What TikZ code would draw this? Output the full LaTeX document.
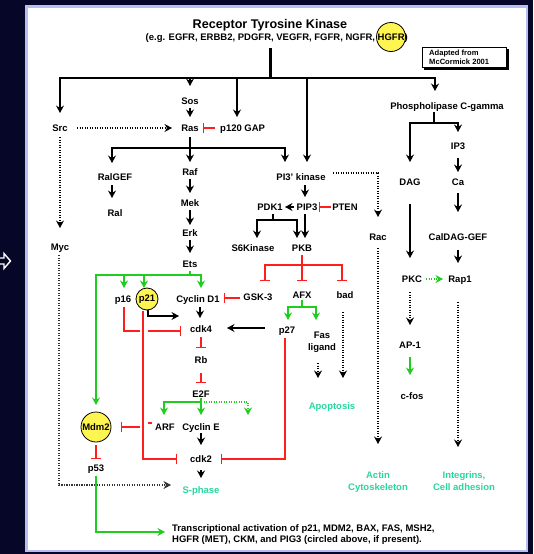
\documentclass[tikz,border=0pt]{standalone}
\usepackage{fontspec}
\setmainfont{Liberation Sans}
\usetikzlibrary{arrows.meta,calc}
\definecolor{navy}{RGB}{6,6,40}
\definecolor{pborder}{RGB}{184,190,238}
\definecolor{ired}{RGB}{255,30,30}
\definecolor{agreen}{RGB}{30,205,30}
\definecolor{tealtxt}{RGB}{40,215,160}
\definecolor{hyellow}{RGB}{255,245,80}
\tikzset{
  lab/.style={font=\fontsize{9.5}{12}\selectfont\bfseries, inner sep=0pt, text height=6.8pt, text depth=0pt},
  lab2/.style={font=\fontsize{9.5}{12}\selectfont\bfseries, inner sep=0pt, align=center},
  outc/.style={lab2, text=tealtxt},
  ln/.style={line width=1.2pt},
  ar/.style={line width=1.2pt, -{Stealth[length=7.5pt,width=8pt,inset=2.5pt]}},
  gln/.style={ln, agreen},
  gar/.style={ar, agreen},
  dar/.style={ar, dash pattern=on 1.2pt off 1.3pt},
  rln/.style={line width=1.3pt, ired},
  inh/.style={line width=1.3pt, ired, -{Bar[width=10pt,line width=1.3pt]}},
  blob/.style={circle, draw, line width=0.8pt, fill=hyellow, inner sep=0pt}
}
\begin{document}
\begin{tikzpicture}[x=1pt,y=-1pt]
\fill[navy] (0,0) rectangle (533,554);
\useasboundingbox (0,0) rectangle (533,554);
\draw[pborder, line width=2.5pt, fill=white] (26.5,6.5) rectangle (527,551);
% left slide arrow
\draw[white, line width=1.4pt, line join=miter] (-3,258) -- (4,258) -- (4,253.5) -- (10.5,261) -- (4,268.5) -- (4,264) -- (-3,264) -- cycle;

% title
\node[font=\fontsize{12.6}{14}\selectfont\bfseries, inner sep=0pt] (title) at (270,25) {Receptor Tyrosine Kinase};
\node[blob, minimum size=29pt] (hgfr) at (391,37) {};
\node[lab, anchor=east] (sub) at (408,37) {(e.g. EGFR, ERBB2, PDGFR, VEGFR, FGFR, NGFR, HGFR)};

% adapted box
\fill (424,49) rectangle (508.5,69.5);
\draw[fill=white, line width=0.8pt] (422,47) rectangle (506,67);
\node[font=\fontsize{7.6}{9}\selectfont\bfseries, inner sep=0pt, anchor=base west] (ad1) at (429,55.2) {Adapted from};
\node[font=\fontsize{7.6}{9}\selectfont\bfseries, inner sep=0pt, anchor=base west] (ad2) at (429,64.5) {McCormick 2001};

% nodes
\node[lab] (src) at (60,128) {Src};
\node[lab] (sos) at (190,101) {Sos};
\node[lab] (ras) at (190,128) {Ras};
\node[lab, anchor=west] (p120) at (220,128) {p120 GAP};
\node[lab] (plc) at (447,106) {Phospholipase C-gamma};
\node[lab] (myc) at (60,247) {Myc};
\node[lab] (ralgef) at (115,177) {RalGEF};
\node[lab] (ral) at (115,213) {Ral};
\node[lab] (raf) at (190,172) {Raf};
\node[lab] (mek) at (190,203) {Mek};
\node[lab] (erk) at (190,233) {Erk};
\node[lab] (ets) at (190,264) {Ets};
\node[lab] (pi3k) at (301,177) {PI3' kinase};
\node[lab] (pdk1) at (270,207) {PDK1};
\node[lab] (pip3) at (307,207) {PIP3};
\node[lab] (pten) at (345,207) {PTEN};
\node[lab] (s6k) at (253,248) {S6Kinase};
\node[lab] (pkb) at (302,248) {PKB};
\node[lab] (rac) at (378,237) {Rac};
\node[lab] (ip3) at (458,146) {IP3};
\node[lab] (dag) at (410,182) {DAG};
\node[lab] (ca) at (458,182) {Ca};
\node[lab] (caldag) at (458,237) {CalDAG-GEF};
\node[lab] (pkc) at (412,279) {PKC};
\node[lab] (rap1) at (460,279) {Rap1};
\node[lab] (ap1) at (410,345) {AP-1};
\node[lab] (cfos) at (412,396) {c-fos};
\node[lab] (gsk3) at (258,297) {GSK-3};
\node[lab] (afx) at (302,295) {AFX};
\node[lab] (bad) at (345,295) {bad};
\node[lab] (p27) at (287,330) {p27};
\node[lab2, anchor=north] (fas) at (322,331.5) {Fas\\ligand};
\node[lab] (p16) at (123,299) {p16};
\node[blob, minimum size=22pt, font=\fontsize{9.5}{12}\selectfont\bfseries] (p21) at (147,299) {p21};
\node[lab] (cycd1) at (198,299) {Cyclin D1};
\node[lab] (cdk4) at (201,329) {cdk4};
\node[lab] (rb) at (201,360) {Rb};
\node[lab] (e2f) at (201,394) {E2F};
\node[lab] (arf) at (165,427) {ARF};
\node[lab] (cyce) at (201,427) {Cyclin E};
\node[blob, minimum size=30pt, font=\fontsize{9.5}{12}\selectfont\bfseries] (mdm2) at (96,427) {Mdm2};
\node[lab] (p53) at (96,468) {p53};
\node[lab] (cdk2) at (201,459) {cdk2};
\node[lab, text=tealtxt] (sphase) at (201,490) {S-phase};
\node[lab, text=tealtxt] (apop) at (332,406) {Apoptosis};
\node[outc, anchor=north] (actin) at (378,471.5) {Actin\\Cytoskeleton};
\node[outc, anchor=north] (integ) at (464,471.5) {Integrins,\\Cell adhesion};
\node[font=\fontsize{9.5}{11.3}\selectfont\bfseries, inner sep=0pt, align=left, anchor=north west] (trans) at (172,524.3) {Transcriptional activation of p21, MDM2, BAX, FAS, MSH2,\\HGFR (MET), CKM, and PIG3 (circled above, if present).};

% receptor trunk and top branches
\coordinate (rtk) at (270,78);
\draw[line width=3pt] (270,48) -- (rtk);
\draw[ar] (rtk) -| (src |- 0,113);
\draw[ar] (rtk) -| (435,91);
\draw[ar] (sos |- 0,78) -- (sos |- 0,86);
\draw[ar] (237,78) -- (237,117);
\draw[ar] (307,78) -- (307,162);

% Ras module
\draw[dar, shorten <=17pt, shorten >=18pt] (src.center) -- (ras.center);
\draw[inh, shorten <=5pt, shorten >=13pt] (p120.west) -- (ras.center);
\draw[ar] (sos |- 0,108) -- (ras |- 0,117);
\draw[dar] (src |- 0,137) -- (myc |- 0,228);
\draw[ar] (ras |- 0,137) -- (raf |- 0,162);
\coordinate (rasj) at (190,148);
\draw[ar] (rasj) -| (112,163);
\draw[ar] (rasj) -| (285,162);
\draw[ar] (112,185) -- (112,198);
\draw[ar] (raf |- 0,179) -- (mek |- 0,193);
\draw[ar] (mek |- 0,210) -- (erk |- 0,225);
\draw[ar] (erk |- 0,240) -- (ets |- 0,253);

% PI3K module
\draw[ar] (305,185) -- (305,197);
\draw[ar] (294,207) -- (285,207);
\draw[inh] (331,207) -- (319,207);
\draw[ln] (273,214) -- (273,220);
\draw[ar] (273,220) -| (257,238);
\draw[ar] (273,220) -| (297,238);
\draw[ar] (305,214) -- (305,238);
\draw[dar] (333,173) -| (rac |- 0,217);
\draw[dar] (rac |- 0,248) -- (actin |- 0,444);

% PLC module
\draw[ln] (434,112) -- (434,123);
\draw[ar] (434,123) -| (410,162);
\draw[ar] (434,123) -| (458,132);
\draw[ar] (458,158) -- (458,172);
\draw[ar] (458,193) -- (458,212);
\draw[ar] (458,250) -- (458,263);
\draw[ar] (410,204) -- (410,258);
\draw[gar, dash pattern=on 1.2pt off 1.3pt] (426,279) -- (443,279);
\draw[dar] (410,292) -- (410,325);
\draw[gar] (410,357) -- (410,375);
\draw[dar] (458,302) -- (458,447);

% PKB targets
\draw[rln] (302,255) -- (302,265);
\draw[inh] (302,265) -| (265,281);
\draw[inh] (302,265) -| (342,281);
\draw[inh] (302,265) -- (302,281);
\draw[inh] (240,298) -- (224,298);
\draw[gln] (302,300) -- (302,307);
\draw[gar] (302,307) -| (288,320);
\draw[gar] (302,307) -| (316,320);
\draw[dar] (343,312) -- (343,378);
\draw[dar] (318,363) -- (318,378);
\draw[ar] (265,328) -- (227,328);
\draw[inh] (285,338) |- (221,459);

% Ets targets
\draw[gln] (190,271) -- (190,275);
\draw[gar] (190,275) -| (96,405);
\draw[gar] (190,275) -| (124,288);
\draw[gar] (190,275) -| (144,288);
\draw[gar] (190,275) -| (201,288);

% cell cycle
\draw[ar] (200,307) -- (200,318);
\draw[ar] (148,310) |- (179,316);
\draw[rln] (124,307) |- (140,331);
\draw[inh] (148,331) -- (181,331);
\draw[inh] (143,311) |- (177,459);
\draw[inh] (201,337) -- (201,348);
\draw[inh] (201,373) -- (201,383);
\draw[gln] (201,398) -- (201,402);
\draw[gar] (201,402) -| (164,415);
\draw[gar] (201,402) -- (201,415);
\draw[gar, dash pattern=on 1.2pt off 1.3pt] (201,402) -| (248,415);
\draw[inh] (140,427) -- (121,427);
\draw[rln] (148,423) -- (152,423);
\draw[ar] (201,433) -- (201,445);
\draw[ar] (201,470) -- (201,478);
\draw[inh] (96,445) -- (96,459);
\draw[dar, black!80] (59,255) |- (171,485);
\draw[gar] (96,476) |- (165,532);
\end{tikzpicture}
\end{document}
